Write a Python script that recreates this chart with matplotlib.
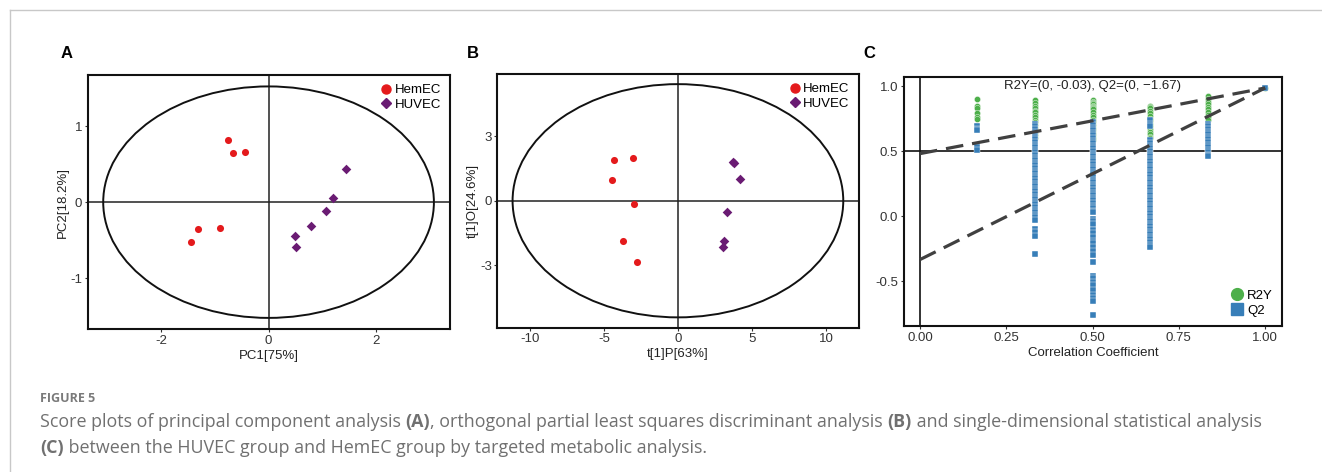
import numpy as np
import matplotlib.pyplot as plt
from matplotlib.patches import Ellipse
from matplotlib.lines import Line2D

plt.rcParams['font.family'] = ['Liberation Sans', 'DejaVu Sans']
plt.rcParams['axes.unicode_minus'] = False

# ---- data ----
groups = ['HemEC', 'HUVEC']

# panel A: PCA scores
pca_hemec_x = [-0.75, -0.66, -0.44, -1.44, -1.32, -0.91]
pca_hemec_y = [0.81, 0.65, 0.66, -0.52, -0.35, -0.34]
pca_huvec_x = [1.44, 1.20, 1.07, 0.79, 0.50, 0.51]
pca_huvec_y = [0.44, 0.05, -0.11, -0.31, -0.45, -0.59]
pca_ellipse = [3.08, 1.52]  # semi axes

# panel B: OPLS-DA scores
opls_hemec_x = [-4.30, -3.06, -4.44, -2.97, -3.70, -2.79]
opls_hemec_y = [1.87, 1.99, 0.95, -0.17, -1.87, -2.84]
opls_huvec_x = [3.70, 3.76, 4.17, 3.33, 3.11, 3.02]
opls_huvec_y = [1.80, 1.74, 0.99, -0.54, -1.88, -2.15]
opls_ellipse = [11.17, 5.41]

# panel C: permutation test
perm_x = [1 / 6, 2 / 6, 3 / 6, 4 / 6, 5 / 6, 1.0]
r2y_vals = [
    [0.90, 0.85, 0.83, 0.79, 0.76, 0.75],
    [0.89, 0.87, 0.85, 0.83, 0.81, 0.80, 0.78, 0.76, 0.74, 0.72, 0.70, 0.68,
     0.66, 0.64, 0.62, 0.60],
    [0.89, 0.88, 0.87, 0.86, 0.85, 0.84, 0.83, 0.82, 0.80, 0.78, 0.76, 0.74,
     0.72, 0.70, 0.68, 0.66, 0.64, 0.62, 0.60, 0.585],
    [0.85, 0.84, 0.83, 0.81, 0.79, 0.77, 0.75, 0.73, 0.71, 0.69, 0.67, 0.65,
     0.63, 0.61, 0.60],
    [0.92, 0.90, 0.88, 0.86, 0.84, 0.82, 0.80, 0.78, 0.76, 0.74],
    [0.985],
]
q2_vals = [
    [0.69, 0.67, 0.66, 0.53, 0.51],
    [0.71, 0.69, 0.67, 0.65, 0.63, 0.61, 0.59, 0.57, 0.55, 0.53, 0.51, 0.49,
     0.47, 0.45, 0.43, 0.41, 0.39, 0.37, 0.35, 0.33, 0.31, 0.29, 0.27, 0.25,
     0.23, 0.21, 0.19, 0.17, 0.15, 0.13, 0.11, 0.09, 0.07, 0.05, 0.03, 0.01,
     -0.01, -0.03, -0.10, -0.12, -0.15, -0.29],
    [0.725, 0.70, 0.68, 0.66, 0.64, 0.62, 0.60, 0.58, 0.56, 0.54, 0.52, 0.50,
     0.48, 0.46, 0.44, 0.42, 0.40, 0.38, 0.36, 0.34, 0.32, 0.30, 0.28, 0.26,
     0.24, 0.22, 0.20, 0.18, 0.16, 0.14, 0.12, 0.10, 0.08, 0.06, 0.04, 0.03,
     -0.02, -0.04, -0.06, -0.11, -0.13, -0.16, -0.19, -0.21, -0.24, -0.27,
     -0.30, -0.35, -0.46, -0.48, -0.51, -0.53, -0.57, -0.61, -0.63, -0.65,
     -0.76],
    [0.74, 0.71, 0.69, 0.585, 0.56, 0.54, 0.52, 0.50, 0.48, 0.46, 0.44, 0.42,
     0.40, 0.38, 0.36, 0.34, 0.32, 0.30, 0.28, 0.26, 0.24, 0.22, 0.20, 0.18,
     0.16, 0.14, 0.12, 0.10, 0.08, 0.06, 0.04, 0.02, 0.00, -0.02, -0.04,
     -0.06, -0.08, -0.10, -0.12, -0.14, -0.16, -0.18, -0.20, -0.22, -0.236],
    [0.71, 0.69, 0.67, 0.65, 0.63, 0.61, 0.59, 0.57, 0.55, 0.53, 0.51, 0.49,
     0.47, 0.46],
    [0.985],
]
r2y_line = [0.48, 0.985]   # y at x=0 and x=1
q2_line = [-0.335, 0.985]
perm_note = 'R2Y=(0, -0.03), Q2=(0, \u22121.67)'

caption_head = 'FIGURE 5'
caption_parts = [
    [('Score plots of principal component analysis ', 'normal'), ('(A)', 'bold'),
     (', orthogonal partial least squares discriminant analysis ', 'normal'),
     ('(B)', 'bold'), (' and single-dimensional statistical analysis', 'normal')],
    [('(C)', 'bold'),
     (' between the HUVEC group and HemEC group by targeted metabolic analysis.', 'normal')],
]

RED = '#E41A1C'
PURPLE = '#6A1B73'
GREEN = '#4DAF4A'
BLUE = '#377EB8'

fig = plt.figure(figsize=(13.22, 4.72), dpi=100)


def style_axes(ax):
    for s in ax.spines.values():
        s.set_linewidth(1.5)
        s.set_color('#111111')
    ax.tick_params(direction='out', length=2.5, width=0.8, labelsize=9.5,
                   colors='#333333', top=False, right=False, pad=1.5)


def score_panel(rect, hx, hy, ux, uy, ell, xlim, ylim, xticks, yticks, xlabel, ylabel):
    ax = fig.add_axes(rect)
    ax.axhline(0, color='#222222', lw=1.1, zorder=1)
    ax.axvline(0, color='#222222', lw=1.1, zorder=1)
    ax.add_patch(Ellipse((0, 0), 2 * ell[0], 2 * ell[1], fill=False,
                         ec='#111111', lw=1.4, zorder=2))
    ax.scatter(hx, hy, s=26, c=RED, marker='o', lw=0, zorder=3, label=groups[0])
    ax.scatter(ux, uy, s=24, c=PURPLE, marker='D', lw=0, zorder=3, label=groups[1])
    ax.set_xlim(xlim)
    ax.set_ylim(ylim)
    ax.set_xticks(xticks)
    ax.set_yticks(yticks)
    ax.set_xlabel(xlabel, fontsize=9.5, color='#222222', labelpad=2)
    ax.set_ylabel(ylabel, fontsize=9.5, color='#222222', labelpad=1)
    style_axes(ax)
    handles = [Line2D([], [], ls='', marker='o', ms=6.5, color=RED),
               Line2D([], [], ls='', marker='D', ms=5, color=PURPLE)]
    ax.legend(handles, groups, loc='upper right', frameon=False, fontsize=9.5,
              handletextpad=0.0, labelspacing=0.15, borderaxespad=0.3,
              handlelength=1.2)
    return ax


score_panel([0.0663, 0.3023, 0.2741, 0.5388], pca_hemec_x, pca_hemec_y,
            pca_huvec_x, pca_huvec_y, pca_ellipse, (-3.37, 3.38), (-1.67, 1.67),
            [-2, 0, 2], [-1, 0, 1], 'PC1[75%]', 'PC2[18.2%]')
score_panel([0.3762, 0.3057, 0.2732, 0.5375], opls_hemec_x, opls_hemec_y,
            opls_huvec_x, opls_huvec_y, opls_ellipse, (-12.2, 12.2), (-5.89, 5.88),
            [-10, -5, 0, 5, 10], [-3, 0, 3], 't[1]P[63%]', 't[1]O[24.6%]')

# panel C
axc = fig.add_axes([0.6836, 0.3087, 0.2862, 0.5275])
axc.axhline(0.5, color='#111111', lw=1.2, zorder=1)
axc.axvline(0, color='#111111', lw=1.2, zorder=1)
for xv, vals in zip(perm_x, r2y_vals):
    axc.scatter([xv] * len(vals), vals, s=20, c=GREEN, marker='o',
                edgecolors='white', linewidths=0.3, zorder=3)
for xv, vals in zip(perm_x, q2_vals):
    axc.scatter([xv] * len(vals), vals, s=19, c=BLUE, marker='s',
                edgecolors='white', linewidths=0.3, zorder=4)
axc.plot([0, 1], r2y_line, color='#404040', lw=2.3, dashes=(5.5, 2.8), zorder=5)
axc.plot([0, 1], q2_line, color='#404040', lw=2.3, dashes=(5.5, 2.8), zorder=5)
axc.text(0.5, 1.0, perm_note, ha='center', va='center', fontsize=9.5, color='#222222')
axc.set_xlim(-0.047, 1.049)
axc.set_ylim(-0.848, 1.067)
axc.set_xticks([0, 0.25, 0.5, 0.75, 1.0])
axc.set_xticklabels(['0.00', '0.25', '0.50', '0.75', '1.00'])
axc.set_yticks([-0.5, 0.0, 0.5, 1.0])
axc.set_yticklabels(['-0.5', '0.0', '0.5', '1.0'])
axc.set_xlabel('Correlation Coefficient', fontsize=9.5, color='#222222', labelpad=2)
style_axes(axc)
hc = [Line2D([], [], ls='', marker='o', ms=8.5, color=GREEN),
      Line2D([], [], ls='', marker='s', ms=8.5, color=BLUE)]
axc.legend(hc, ['R2Y', 'Q2'], loc='lower right', frameon=False, fontsize=9.5,
           handletextpad=0.2, labelspacing=0.25, borderaxespad=0.3, handlelength=1.2)

# panel letters
for lbl, xp in zip(['A', 'B', 'C'], [67, 473, 869]):
    fig.text(xp / 1322, 1 - 53 / 472, lbl, fontsize=12, fontweight='bold',
             ha='center', va='center')

# page frame lines
fig.add_artist(Line2D([9.7 / 1322, 1], [1 - 10 / 472, 1 - 10 / 472],
                      transform=fig.transFigure, color='#c8c8c8', lw=1))
fig.add_artist(Line2D([9.7 / 1322, 9.7 / 1322], [0, 1 - 10 / 472],
                      transform=fig.transFigure, color='#c8c8c8', lw=1))

# caption
cap_font = ['Open Sans', 'DejaVu Sans']
fig.text(40 / 1322, 1 - 402 / 472, caption_head, fontsize=9, color='#7a7a7a',
         family=cap_font, fontweight='bold', va='baseline')
renderer = fig.canvas.get_renderer()
for line, yp in zip(caption_parts, [427, 453]):
    x0 = 40
    for txt, wt in line:
        t = fig.text(x0 / 1322, 1 - yp / 472, txt, fontsize=12.9, color='#707070',
                     family=cap_font, fontweight=wt, va='baseline')
        x0 += t.get_window_extent(renderer).width

fig.savefig('out.png', dpi=100)
